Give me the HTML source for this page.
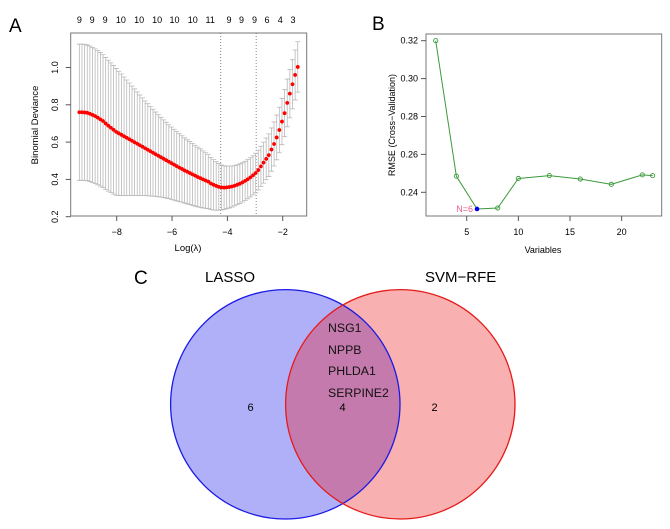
<!DOCTYPE html>
<html><head><meta charset="utf-8">
<style>
html,body{margin:0;padding:0;background:#fff;}
svg{display:block;font-family:"Liberation Sans",Arial,sans-serif;}
</style></head>
<body>
<svg id="fig" width="670" height="529" viewBox="0 0 670 529">
  <text x="9" y="32" font-size="19">A</text>
  <text x="372" y="30" font-size="19">B</text>
  <text x="134" y="284" font-size="19">C</text>
  <g id="pa"></g>
  <g id="pb"></g>
  <g id="pc">
    <defs><clipPath id="clipBlue"><circle cx="285.3" cy="404.3" r="114.7"/></clipPath></defs>
    <circle cx="285.3" cy="404.3" r="114.7" fill="#b0b0f8"/>
    <circle cx="400.3" cy="404.3" r="114.7" fill="#f8b0b0"/>
    <circle cx="400.3" cy="404.3" r="114.7" fill="#c47aac" clip-path="url(#clipBlue)"/>
    <circle cx="285.3" cy="404.3" r="114.7" fill="none" stroke="#1a1ae6" stroke-width="1.3"/>
    <circle cx="400.3" cy="404.3" r="114.7" fill="none" stroke="#e61a1a" stroke-width="1.3"/>
    <text x="205" y="282" font-size="15">LASSO</text>
    <text x="425" y="282" font-size="15">SVM−RFE</text>
    <g font-size="12.3" fill="#111">
      <text x="328" y="332">NSG1</text>
      <text x="328" y="354">NPPB</text>
      <text x="328" y="375">PHLDA1</text>
      <text x="328" y="397">SERPINE2</text>
    </g>
    <g font-size="11" text-anchor="middle">
      <text x="250.5" y="411">6</text>
      <text x="342.5" y="411">4</text>
      <text x="434.5" y="411">2</text>
    </g>
  </g>
</svg>
<script>
// ===== Panel A data =====
const aXStart = -9.35;
const aXStep = 0.0951;
const aMeans = [.760,.760,.759,.757,.752,.746,.739,.731,.722,.713,.700,.688,.677,.666,
.655,.647,.639,.631,.623,.615,.607,.599,.591,.583,.575,.567,.559,.551,.543,.535,.527,.519,.511,.503,.495,.487,.479,.471,.463,.456,.448,.441,.434,.427,.420,.413,.407,.400,.394,.388,
.378,.371,.365,.360,.357,.356,.357,.359,.362,.366,.371,.377,.384,.392,.401,.411,.422,.434,.450,.47,.49,.51,.53,.56,.59,.625,.665,.71,.755,.81,.86,.91,.96,1.003];
const aSE = [.365,.365,.365,.364,.363,.362,.361,.360,.358,.356,.354,.351,.348,.345,.340,
.333,.326,.318,.310,.302,.294,.286,.278,.270,.262,.254,.247,.240,.233,.226,.220,.214,.208,.203,.198,.194,
.190,.186,.182,.178,.175,.172,.169,.166,.163,.160,.157,.153,.149,.145,.140,.135,.130,.125,.120,
.117,.114,.112,.110,.108,.107,.106,.105,.105,.105,.105,.105,.106,.107,.108,.110,.112,.114,.116,.118,.120,.122,.124,.126,.128,.130,.132,.134,.135];
const aXTicks = [-8,-6,-4,-2];
const aYTicks = [0.2,0.4,0.6,0.8,1.0];
const aTopPos = [-9.35,-8.89,-8.42,-7.85,-7.19,-6.54,-5.91,-5.25,-4.62,-3.94,-3.49,-3.02,-2.57,-2.09,-1.63];
const aTopLabels = ["9","9","9","10","10","10","10","10","11","9","9","9","6","4","3"];
const aVLines = [-4.24,-2.96];
// ===== Panel B data =====
const bVars = [2,4,6,8,10,13,16,19,22,23];
const bRMSE = [0.3200,0.2485,0.2312,0.2317,0.2473,0.2488,0.2470,0.2442,0.2492,0.2488];
const bXTicks = [5,10,15,20];
const bYTicks = [0.24,0.26,0.28,0.30,0.32];
const bBestIndex = 2;

const NS = "http://www.w3.org/2000/svg";
function mk(parent, tag, attrs, text){
  const e = document.createElementNS(NS, tag);
  for (const k in attrs) e.setAttribute(k, attrs[k]);
  if (text !== undefined) e.textContent = text;
  parent.appendChild(e);
  return e;
}

// Panel A axes
const ax = v => 116.7 + (v + 8) * 27.67;
const ay = v => 216.7 - (v - 0.2) / 0.2 * 37.3;
const pa = document.getElementById('pa');
let el;
el = mk(pa,'rect',{x:70.7,y:33,width:236,height:183,fill:'none',stroke:'#777','stroke-width':1});


aVLines.forEach(v=>{
  el = mk(pa,'line',{x1:ax(v),x2:ax(v),y1:33,y2:216,stroke:'#666','stroke-width':0.8,'stroke-dasharray':'1,2'});
  
  
});
aMeans.forEach((m,i)=>{
  const x = ax(aXStart + i*aXStep);
  const yu = ay(m + aSE[i]), yl = ay(m - aSE[i]);
  el = mk(pa,'path',{d:`M${x},${yu}V${yl}M${x-2.5},${yu}H${x+2.5}M${x-2.5},${yl}H${x+2.5}`,stroke:'#b8b8b8','stroke-width':0.8,fill:'none'});
  
  
});
aMeans.forEach((m,i)=>{
  el = mk(pa,'circle',{cx:ax(aXStart + i*aXStep),cy:ay(m),r:1.9,fill:'#f00'});
  
  
});
aXTicks.forEach(v=>{
  mk(pa,'line',{x1:ax(v),x2:ax(v),y1:216,y2:221,stroke:'#555'});
  el = mk(pa,'text',{x:ax(v),y:235,'font-size':9,'text-anchor':'middle'},String(v).replace('-','−'));
  
  
});
aYTicks.forEach(v=>{
  mk(pa,'line',{x1:65.7,x2:70.7,y1:ay(v),y2:ay(v),stroke:'#555'});
  el = mk(pa,'text',{x:58,y:ay(v),'font-size':9,'text-anchor':'middle',transform:`rotate(-90 58 ${ay(v)})`},v.toFixed(1));
  
  
});
aTopPos.forEach((v,i)=>{
  el = mk(pa,'text',{x:ax(v),y:23,'font-size':9,'text-anchor':'middle'},aTopLabels[i]);
  
  
});
el = mk(pa,'text',{x:188,y:251,'font-size':9.5,'text-anchor':'middle'},'Log(λ)');


el = mk(pa,'text',{x:38,y:125,'font-size':9.5,'text-anchor':'middle',transform:'rotate(-90 38 125)'},'Binomial Deviance');



// Panel B
const bx = v => 466.7 + (v - 5) * 10.33;
const by = v => 192.3 - (v - 0.24) / 0.02 * 37.9;
const pb = document.getElementById('pb');
el = mk(pb,'rect',{x:426,y:34,width:235.7,height:182,fill:'none',stroke:'#777','stroke-width':1});


el = mk(pb,'polyline',{points:bVars.map((v,i)=>bx(v)+','+by(bRMSE[i])).join(' '),fill:'none',stroke:'#3a9a3a','stroke-width':1});


bVars.forEach((v,i)=>{
  if (i === bBestIndex) {
    el = mk(pb,'circle',{cx:bx(v),cy:by(bRMSE[i]),r:2.3,fill:'#0000ee'});
    
  } else {
    el = mk(pb,'circle',{cx:bx(v),cy:by(bRMSE[i]),r:2.1,fill:'none',stroke:'#3a9a3a','stroke-width':0.9});
    
  }
  
});
el = mk(pb,'text',{x:bx(bVars[bBestIndex])-4,y:by(bRMSE[bBestIndex])+3,'font-size':9,'text-anchor':'end',fill:'#e8608a'},'N='+bVars[bBestIndex]);


bXTicks.forEach(v=>{
  mk(pb,'line',{x1:bx(v),x2:bx(v),y1:216,y2:221,stroke:'#555'});
  el = mk(pb,'text',{x:bx(v),y:235,'font-size':9,'text-anchor':'middle'},String(v));
  
  
});
bYTicks.forEach(v=>{
  mk(pb,'line',{x1:421,x2:426,y1:by(v),y2:by(v),stroke:'#555'});
  el = mk(pb,'text',{x:418,y:by(v)+3,'font-size':9,'text-anchor':'end'},v.toFixed(2));
  
  
});
el = mk(pb,'text',{x:543,y:253,'font-size':9,'text-anchor':'middle'},'Variables');


el = mk(pb,'text',{x:395,y:125,'font-size':9,'text-anchor':'middle',transform:'rotate(-90 395 125)'},'RMSE (Cross−Validation)');


</script>
</body></html>
